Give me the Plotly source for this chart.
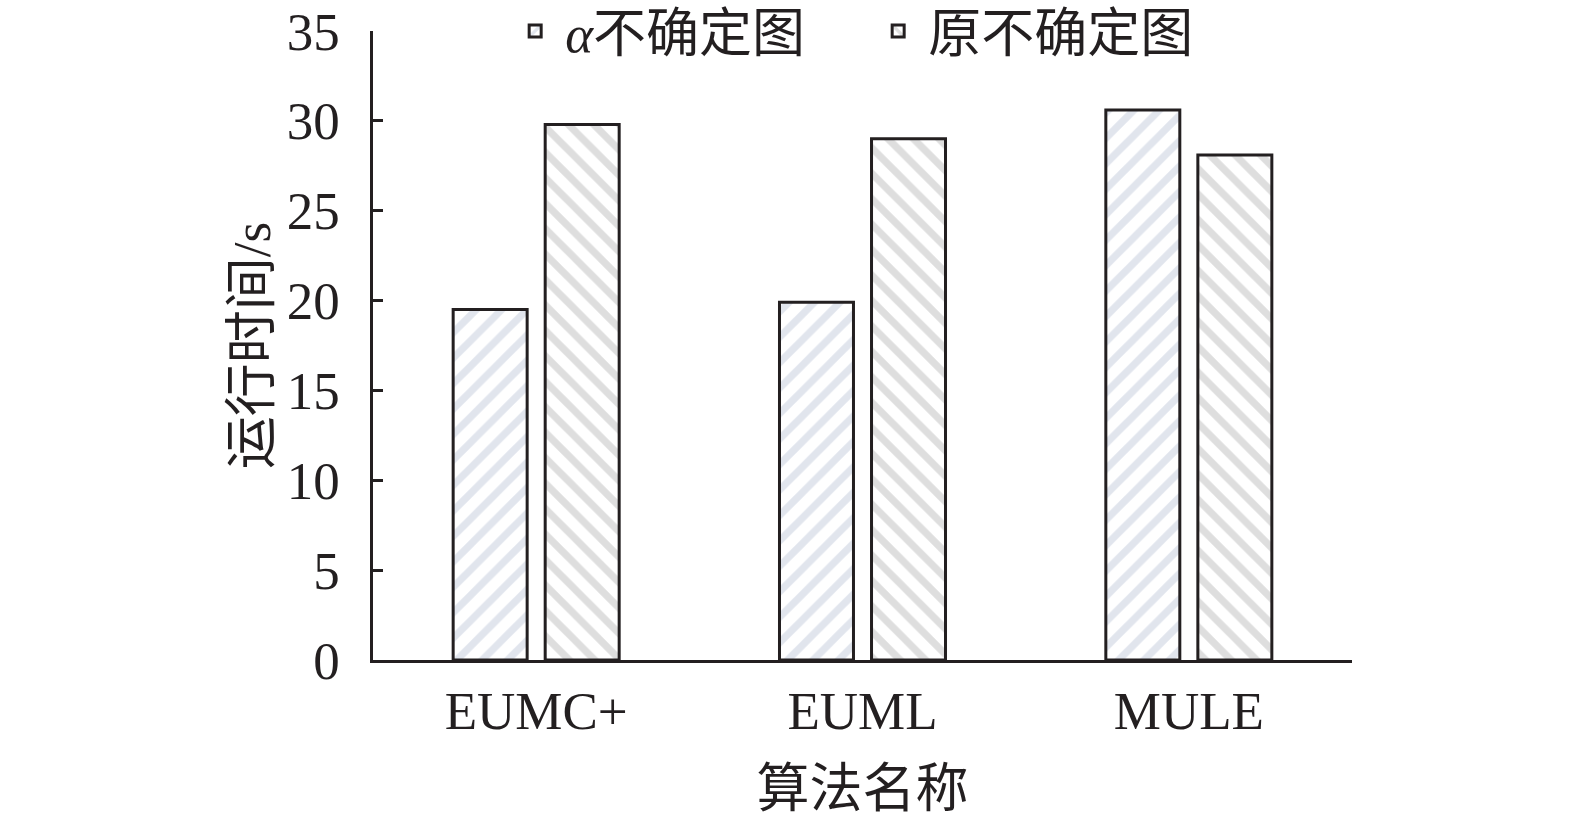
import plotly.graph_objects as go

algorithms = ["EUMC+", "EUML", "MULE"]
alpha_times = [19.5, 19.9, 30.6]
orig_times = [29.8, 29.0, 28.1]
series_names = ["<i>α</i>不确定图", "原不确定图"]

FONT = "Liberation Serif, Times New Roman, Noto Sans CJK SC, serif"
INK = "#231f20"
SIZE = 53

fig = go.Figure()
fig.add_trace(go.Bar(
    x=algorithms, y=alpha_times, name=series_names[0],
    marker=dict(color="white", line=dict(color=INK, width=3),
                pattern=dict(shape="/", fgcolor="#c3cbdc", bgcolor="white",
                             size=18, solidity=0.4)),
))
fig.add_trace(go.Bar(
    x=algorithms, y=orig_times, name=series_names[1],
    marker=dict(color="white", line=dict(color=INK, width=3),
                pattern=dict(shape="\\", fgcolor="#bdbdbd", bgcolor="white",
                             size=18, solidity=0.4)),
))

fig.update_layout(
    width=1575, height=828,
    margin=dict(l=373, r=223, t=31, b=168, autoexpand=False),
    plot_bgcolor="white", paper_bgcolor="white",
    font=dict(family=FONT, size=SIZE, color=INK),
    barmode="group", bargap=0.436, bargroupgap=0.196,
    legend=dict(orientation="h", x=0.135, xanchor="left", y=1.0, yanchor="middle",
                font=dict(size=SIZE), bgcolor="rgba(0,0,0,0)",
                itemwidth=50, entrywidth=298),
    showlegend=True,
)
fig.update_xaxes(
    showline=True, linecolor=INK, linewidth=2.5, ticks="", showgrid=False,
    ticklabelstandoff=3, automargin=True,
    title=dict(text="算法名称", standoff=31, font=dict(size=SIZE)),
)
fig.update_yaxes(
    range=[0, 35], dtick=5, showline=True, linecolor=INK, linewidth=2.5,
    ticks="inside", ticklen=10, tickwidth=2.5, tickcolor=INK, showgrid=False,
    zeroline=False, ticklabelstandoff=20, ticklabeloverflow="allow", automargin=True,
    title=dict(text="运行时间/s", standoff=0, font=dict(size=SIZE)),
)

# drop the default 8px body margin so the figure fills the window exactly
fig.write_html("out.html", config={"displayModeBar": False},
               post_script="document.body.style.margin='0';")
